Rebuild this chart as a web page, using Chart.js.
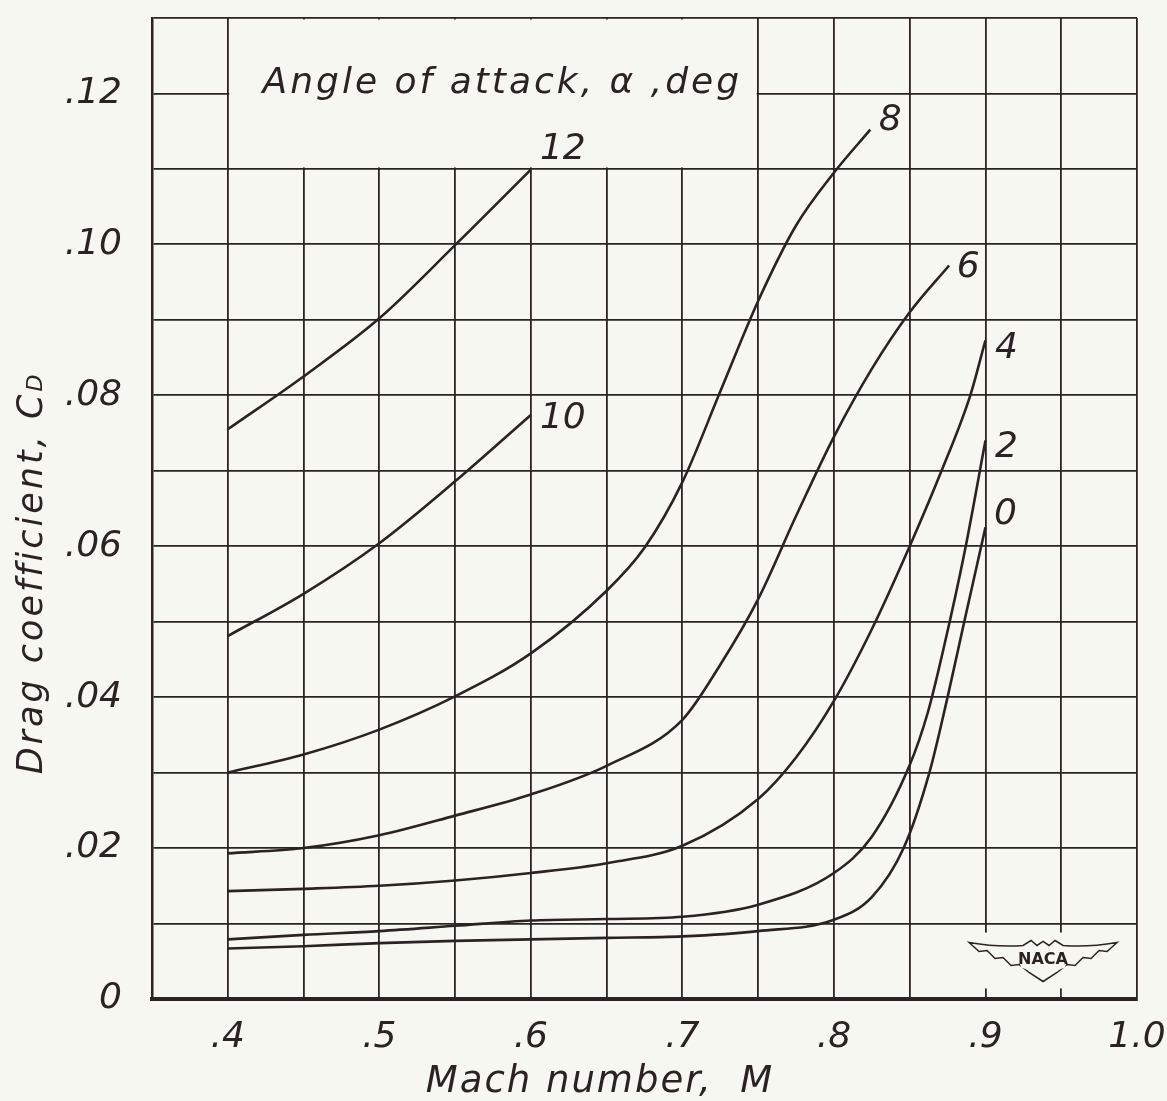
<!DOCTYPE html>
<html lang="en">
<head>
    <meta charset="UTF-8">
    <title>Drag coefficient vs Mach number</title>
    <style>
        body { margin: 0; background: #f7f7f2; }
        #chart-container { width: 1167px; height: 1101px; position: relative; }
    </style>
    <script src="https://cdn.jsdelivr.net/npm/chart.js"></script>
</head>
<body>
<div id="chart-container"><canvas id="dragChart"></canvas></div>
<script>
// Values: Mach number and drag coefficient for each angle of attack
const mach0 = [0.40, 0.45, 0.50, 0.55, 0.60, 0.65, 0.70, 0.75, 0.80, 0.825, 0.846, 0.863, 0.875, 0.886, 0.90];
const cd0   = [0.0067, 0.0070, 0.0074, 0.0077, 0.0079, 0.0081, 0.0083, 0.0090, 0.0105, 0.0135, 0.0200, 0.0300, 0.0400, 0.0500, 0.0625];

const mach2 = [0.40, 0.45, 0.50, 0.55, 0.60, 0.65, 0.70, 0.75, 0.80, 0.825, 0.85, 0.862, 0.873, 0.886, 0.90];
const cd2   = [0.0079, 0.0085, 0.0090, 0.0097, 0.0104, 0.0106, 0.0109, 0.0125, 0.0167, 0.0215, 0.0310, 0.0380, 0.0470, 0.0590, 0.0740];

const mach4 = [0.40, 0.45, 0.50, 0.55, 0.60, 0.65, 0.70, 0.75, 0.775, 0.80, 0.825, 0.85, 0.87, 0.89, 0.90];
const cd4   = [0.0143, 0.0146, 0.0150, 0.0157, 0.0167, 0.0180, 0.0203, 0.0265, 0.0320, 0.0395, 0.0490, 0.0600, 0.0695, 0.0800, 0.0873];

const mach6 = [0.40, 0.45, 0.50, 0.55, 0.60, 0.65, 0.70, 0.725, 0.75, 0.775, 0.80, 0.825, 0.85, 0.876];
const cd6   = [0.0193, 0.0200, 0.0217, 0.0243, 0.0271, 0.0309, 0.0370, 0.0443, 0.0530, 0.0640, 0.0745, 0.0835, 0.0910, 0.0972];

const mach8 = [0.40, 0.45, 0.50, 0.55, 0.60, 0.65, 0.675, 0.70, 0.725, 0.75, 0.775, 0.80, 0.824];
const cd8   = [0.0300, 0.0324, 0.0357, 0.0401, 0.0458, 0.0541, 0.0598, 0.0685, 0.0805, 0.0925, 0.1025, 0.1095, 0.1152];

const mach10 = [0.40, 0.45, 0.50, 0.55, 0.60];
const cd10   = [0.0481, 0.0537, 0.0604, 0.0686, 0.0774];

const mach12 = [0.40, 0.45, 0.50, 0.55, 0.60];
const cd12   = [0.0755, 0.0825, 0.0902, 0.0999, 0.1099];

// Axis ticks (grid every .05 / .01, labels on every other line)
const xTickValues = [0.35, 0.40, 0.45, 0.50, 0.55, 0.60, 0.65, 0.70, 0.75, 0.80, 0.85, 0.90, 0.95, 1.00];
const xTickText   = ['', '.4', '', '.5', '', '.6', '', '.7', '', '.8', '', '.9', '', '1.0'];
const yTickValues = [0, 0.01, 0.02, 0.03, 0.04, 0.05, 0.06, 0.07, 0.08, 0.09, 0.10, 0.11, 0.12, 0.13];
const yTickText   = ['0', '', '.02', '', '.04', '', '.06', '', '.08', '', '.10', '', '.12', ''];

const headingText = 'Angle of attack, α ,deg';
const xTitleText = 'Mach number,  M';
const yTitleText = 'Drag coefficient, C';
const yTitleSub = 'D';

const curves = [
    { alpha: '0', mach: mach0, cd: cd0 },
    { alpha: '2', mach: mach2, cd: cd2 },
    { alpha: '4', mach: mach4, cd: cd4 },
    { alpha: '6', mach: mach6, cd: cd6 },
    { alpha: '8', mach: mach8, cd: cd8 },
    { alpha: '10', mach: mach10, cd: cd10 },
    { alpha: '12', mach: mach12, cd: cd12 }
];

const INK = '#2b2323';
const PAPER = '#f7f7f2';
const FAMILY = '"DejaVu Sans", sans-serif';

// pixel nudge of each curve's number from the curve's last point
const labelOffsets = { '0': [20, -13], '2': [21, 7], '4': [21, 8], '6': [19, 2], '8': [20, -9], '10': [32, 4], '12': [32, -20] };

const paperPlugin = {
    id: 'paper',
    beforeDraw(chart) {
        const ctx = chart.ctx;
        ctx.save();
        ctx.fillStyle = PAPER;
        ctx.fillRect(0, 0, chart.width, chart.height);
        ctx.restore();
    },
    beforeDatasetsDraw(chart) {
        // blank out the grid under the heading and under the NACA emblem
        const { ctx, scales: { x, y } } = chart;
        ctx.save();
        ctx.fillStyle = PAPER;
        let l = x.getPixelForValue(0.40) + 1.5, r = x.getPixelForValue(0.75) - 1.5;
        let t = y.getPixelForValue(0.13) + 1.5, b = y.getPixelForValue(0.11) - 1.5;
        ctx.fillRect(l, t, r - l, b - t);
        l = x.getPixelForValue(0.885); r = x.getPixelForValue(0.99);
        t = y.getPixelForValue(0.0088); b = y.getPixelForValue(0.0014);
        ctx.fillRect(l, t, r - l, b - t);
        ctx.restore();
    },
    afterDraw(chart) {
        const { ctx, scales: { x, y } } = chart;
        ctx.save();
        ctx.fillStyle = INK;
        ctx.strokeStyle = INK;

        // heading
        ctx.font = `italic 36px ${FAMILY}`;
        ctx.letterSpacing = '3px';
        ctx.textAlign = 'left';
        ctx.textBaseline = 'alphabetic';
        ctx.fillText(headingText, x.getPixelForValue(0.423), y.getPixelForValue(0.12));

        // curve numbers
        ctx.letterSpacing = '0px';
        ctx.textAlign = 'center';
        ctx.textBaseline = 'middle';
        curves.forEach(c => {
            const n = c.mach.length - 1;
            const off = labelOffsets[c.alpha];
            ctx.fillText(c.alpha, x.getPixelForValue(c.mach[n]) + off[0], y.getPixelForValue(c.cd[n]) + off[1]);
        });

        // x title
        ctx.font = `italic 37px ${FAMILY}`;
        ctx.letterSpacing = '2px';
        ctx.textBaseline = 'alphabetic';
        ctx.fillText(xTitleText, 600, 1092);

        // y title with subscript
        ctx.save();
        ctx.translate(30, 573);
        ctx.rotate(-Math.PI / 2);
        ctx.letterSpacing = '3px';
        ctx.font = `italic 35px ${FAMILY}`;
        const w1 = ctx.measureText(yTitleText).width;
        ctx.font = `italic 22px ${FAMILY}`;
        const w2 = ctx.measureText(yTitleSub).width;
        ctx.textAlign = 'left';
        ctx.font = `italic 35px ${FAMILY}`;
        ctx.fillText(yTitleText, -(w1 + w2) / 2, 12);
        ctx.font = `italic 22px ${FAMILY}`;
        ctx.fillText(yTitleSub, -(w1 + w2) / 2 + w1, 12);
        ctx.restore();

        // NACA wings emblem
        const cx = x.getPixelForValue(0.938), cy = y.getPixelForValue(0.0055);
        ctx.letterSpacing = '0px';
        ctx.lineWidth = 1.5;
        ctx.beginPath();
        ctx.moveTo(cx - 74, cy - 15);
        ctx.quadraticCurveTo(cx - 45, cy - 10, cx - 20, cy - 12);
        ctx.lineTo(cx - 12, cy - 17);
        ctx.lineTo(cx - 6, cy - 12);
        ctx.lineTo(cx, cy - 16);
        ctx.lineTo(cx + 6, cy - 12);
        ctx.lineTo(cx + 12, cy - 17);
        ctx.lineTo(cx + 20, cy - 12);
        ctx.quadraticCurveTo(cx + 45, cy - 10, cx + 74, cy - 15);
        ctx.lineTo(cx + 64, cy - 6);
        ctx.lineTo(cx + 56, cy - 7);
        ctx.lineTo(cx + 48, cy + 1);
        ctx.lineTo(cx + 40, cy);
        ctx.lineTo(cx + 32, cy + 8);
        ctx.lineTo(cx + 24, cy + 7);
        ctx.lineTo(cx + 14, cy + 15);
        ctx.lineTo(cx, cy + 24);
        ctx.lineTo(cx - 14, cy + 15);
        ctx.lineTo(cx - 24, cy + 7);
        ctx.lineTo(cx - 32, cy + 8);
        ctx.lineTo(cx - 40, cy);
        ctx.lineTo(cx - 48, cy + 1);
        ctx.lineTo(cx - 56, cy - 7);
        ctx.lineTo(cx - 64, cy - 6);
        ctx.closePath();
        ctx.stroke();
        ctx.beginPath();
        ctx.moveTo(cx - 26, cy - 8);
        ctx.lineTo(cx + 26, cy - 8);
        ctx.lineTo(cx + 22, cy + 10);
        ctx.lineTo(cx, cy + 18);
        ctx.lineTo(cx - 22, cy + 10);
        ctx.closePath();
        ctx.fillStyle = PAPER;
        ctx.fill();
        ctx.fillStyle = INK;
        ctx.font = `bold 16px ${FAMILY}`;
        ctx.textAlign = 'center';
        ctx.textBaseline = 'middle';
        ctx.fillText('NACA', cx, cy + 2);

        ctx.restore();
    }
};

const tickFont = { family: FAMILY, size: 36, style: 'italic' };

new Chart(document.getElementById('dragChart').getContext('2d'), {
    type: 'line',
    data: {
        datasets: curves.map(c => ({
            label: c.alpha,
            data: c.mach.map((m, i) => ({ x: m, y: c.cd[i] })),
            borderColor: INK,
            borderWidth: 2.6,
            pointRadius: 0,
            fill: false,
            cubicInterpolationMode: 'monotone'
        }))
    },
    options: {
        responsive: true,
        maintainAspectRatio: false,
        animation: false,
        events: [],
        layout: { padding: { top: 18, right: 30, left: 0, bottom: 0 } },
        scales: {
            x: {
                type: 'linear',
                min: 0.35,
                max: 1.0,
                afterBuildTicks: scale => { scale.ticks = xTickValues.map(v => ({ value: v })); },
                afterFit: scale => {
                    scale.height = 102;
                    scale.paddingLeft = 0;
                    scale.paddingRight = 0;
                },
                ticks: {
                    callback: (v, i) => xTickText[i],
                    autoSkip: false,
                    maxRotation: 0,
                    minRotation: 0,
                    padding: 17,
                    color: INK,
                    font: tickFont
                },
                grid: { color: INK, lineWidth: 1.8, drawTicks: false },
                border: { color: INK, width: 4 }
            },
            y: {
                min: 0,
                max: 0.13,
                afterBuildTicks: scale => { scale.ticks = yTickValues.map(v => ({ value: v })); },
                afterFit: scale => {
                    scale.width = 152;
                    scale.paddingTop = 0;
                    scale.paddingBottom = 0;
                },
                ticks: {
                    callback: (v, i) => yTickText[i],
                    padding: 30,
                    color: INK,
                    font: tickFont
                },
                grid: { color: INK, lineWidth: 1.8, drawTicks: false },
                border: { color: INK, width: 2.5 }
            }
        },
        plugins: {
            legend: { display: false },
            tooltip: { enabled: false }
        }
    },
    plugins: [paperPlugin]
});
</script>
</body>
</html>
